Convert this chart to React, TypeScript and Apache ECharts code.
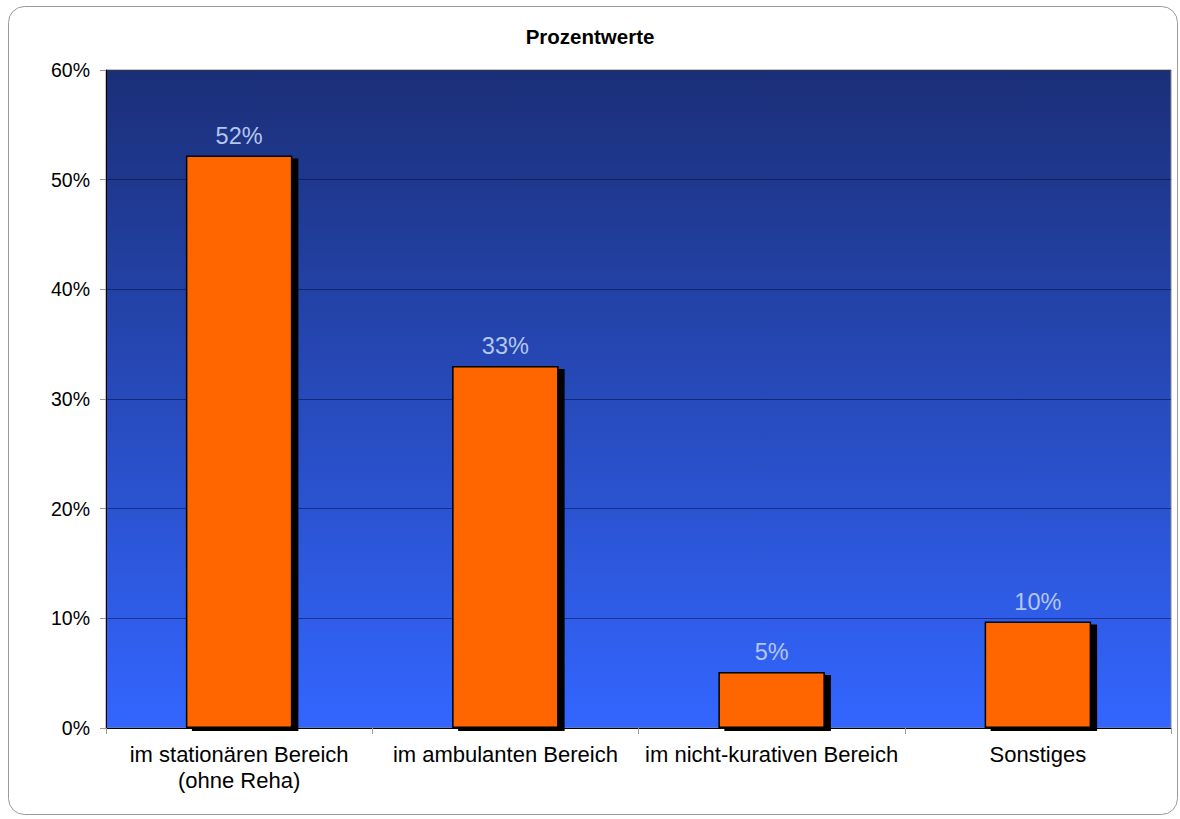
import React, { useEffect, useRef } from "react";
import * as echarts from "echarts";

const categories = [
  "im stationären Bereich\n(ohne Reha)",
  "im ambulanten Bereich",
  "im nicht-kurativen Bereich",
  "Sonstiges",
];
const values = [52.2, 33.0, 5.1, 9.7];
const yTicks = [0, 10, 20, 30, 40, 50, 60];
const chartTitle = "Prozentwerte";

export default function App() {
  const ref = useRef<HTMLDivElement>(null);
  useEffect(() => {
    if (!ref.current) return;
    const chart = echarts.init(ref.current, null, { renderer: "svg" });
    chart.setOption({
      animation: false,
      backgroundColor: "#ffffff",
      textStyle: { fontFamily: "Liberation Sans, Arial, sans-serif" },
      title: {
        text: chartTitle,
        left: "center",
        top: 21,
        textStyle: { fontSize: 20.5, fontWeight: "bold", color: "#000", fontFamily: "Liberation Sans, Arial, sans-serif" },
      },
      graphic: [
        {
          type: "rect",
          shape: { x: 8.5, y: 6.5, width: 1169, height: 808, r: 16 },
          style: { fill: "none", stroke: "#9a9a9a", lineWidth: 1 },
          z: -1,
        },
      ],
      grid: {
        left: 106,
        right: 9,
        top: 70,
        bottom: 91,
        show: true,
        borderColor: "#888",
        borderWidth: 1,
        backgroundColor: new echarts.graphic.LinearGradient(0, 0, 0, 1, [
          { offset: 0, color: "#1b2f78" },
          { offset: 1, color: "#3366ff" },
        ]),
      },
      xAxis: {
        type: "category",
        data: categories,
        boundaryGap: true,
        axisLine: { show: true, lineStyle: { color: "#000", width: 1 } },
        axisTick: { show: true, length: 6, lineStyle: { color: "#999" } },
        axisLabel: {
          color: "#000",
          fontSize: 22,
          margin: 13,
          lineHeight: 26,
          interval: 0,
          fontFamily: "Liberation Sans, Arial, sans-serif",
        },
      },
      yAxis: {
        type: "value",
        min: yTicks[0],
        max: yTicks[yTicks.length - 1],
        interval: 10,
        axisLine: { show: true, lineStyle: { color: "#000", width: 1 } },
        axisTick: { show: true, length: 6, lineStyle: { color: "#999" } },
        axisLabel: {
          color: "#000",
          fontSize: 19.5,
          margin: 16,
          formatter: (v: number) => `${v}%`,
          fontFamily: "Liberation Sans, Arial, sans-serif",
        },
        splitLine: { show: true, lineStyle: { color: "rgba(0,0,40,0.45)", width: 1 } },
      },
      series: [
        {
          type: "bar",
          data: values,
          barWidth: "40%",
          itemStyle: {
            color: "#ff6600",
            borderColor: "#000",
            borderWidth: 1.5,
            shadowColor: "#000",
            shadowBlur: 0,
            shadowOffsetX: 6,
            shadowOffsetY: 3,
          },
          label: {
            show: true,
            position: "top",
            distance: 8,
            color: "#b4c6ee",
            fontSize: 23.5,
            fontFamily: "Liberation Sans, Arial, sans-serif",
            formatter: (p: any) => `${Math.round(p.value)}%`,
          },
        },
      ],
    });
    return () => chart.dispose();
  }, []);
  return (
    <div
      ref={ref}
      style={{ position: "fixed", left: 0, top: 0, width: 1180, height: 819 }}
    />
  );
}
